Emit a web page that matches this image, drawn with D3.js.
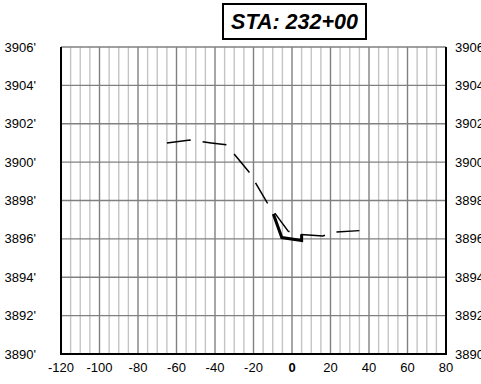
<!DOCTYPE html>
<html>
<head>
<meta charset="utf-8">
<script src="https://cdn.jsdelivr.net/npm/d3@7"></script>
<style>
  html, body { margin: 0; padding: 0; background: #fff; overflow: hidden; }
  svg { display: block; font-family: Arial, "Liberation Sans", sans-serif; }
</style>
</head>
<body>
<svg id="chart" width="481" height="384"></svg>
<script>
// Cross-section at station 232+00: offset (ft) vs. elevation (ft)
const title = "STA: 232+00";
const xTicks = [-120, -100, -80, -60, -40, -20, 0, 20, 40, 60, 80];
const yTicks = [3890, 3892, 3894, 3896, 3898, 3900, 3902, 3904, 3906];

// Existing ground (dashed)
const existingOffset = [-65, -53, -42, -34, -22, -13, -2, 2, 16, 22, 35];
const existingElev   = [3901.0, 3901.15, 3901.0, 3900.9, 3899.45, 3897.9, 3896.4, 3896.25, 3896.15, 3896.35, 3896.43];

// Proposed section (solid)
const proposedOffset = [-9.7, -5.3, 5.0, 5.0];
const proposedElev   = [3897.3, 3896.07, 3895.91, 3896.24];

const plotLeft = 61, plotRight = 446, plotTop = 47, plotBottom = 354;

const svg = d3.select("#chart");
const x = d3.scaleLinear().domain([-120, 80]).range([plotLeft, plotRight]);
const y = d3.scaleLinear().domain([3890, 3906]).range([plotBottom, plotTop]);

// Minor vertical grid every 5 ft
const minor = d3.range(-115, 80, 5).filter(v => v % 20 !== 0);
svg.append("g").selectAll("line").data(minor).join("line")
  .attr("x1", d => x(d)).attr("x2", d => x(d))
  .attr("y1", y(3906)).attr("y2", y(3890))
  .attr("stroke", "#c4c4c4").attr("stroke-width", 1.4);

// Major vertical grid
svg.append("g").selectAll("line").data(xTicks.filter(v => v > -120 && v < 80)).join("line")
  .attr("x1", d => x(d)).attr("x2", d => x(d))
  .attr("y1", y(3906)).attr("y2", y(3890))
  .attr("stroke", "#808080").attr("stroke-width", 1.4);

// Horizontal grid
svg.append("g").selectAll("line").data(yTicks.filter(v => v > 3890)).join("line")
  .attr("x1", x(-120)).attr("x2", x(80))
  .attr("y1", d => y(d)).attr("y2", d => y(d))
  .attr("stroke", "#808080").attr("stroke-width", 1.4);

// Frame: left, bottom, right
svg.append("path")
  .attr("d", `M${x(-120)},${y(3906)}V${y(3890)}H${x(80)}V${y(3906)}`)
  .attr("fill", "none").attr("stroke", "#000").attr("stroke-width", 2);

// Y labels on both sides
svg.append("g").selectAll("text").data(yTicks).join("text")
  .attr("x", plotLeft - 25).attr("y", d => y(d) + 4.5)
  .attr("text-anchor", "end").attr("font-size", 13)
  .text(d => d + "'");
svg.append("g").selectAll("text").data(yTicks).join("text")
  .attr("x", plotRight + 9).attr("y", d => y(d) + 4.5)
  .attr("text-anchor", "start").attr("font-size", 13)
  .text(d => d + "'");

// X labels
svg.append("g").selectAll("text").data(xTicks).join("text")
  .attr("x", d => x(d)).attr("y", plotBottom + 18)
  .attr("text-anchor", "middle").attr("font-size", 13)
  .attr("font-weight", d => d === 0 ? "bold" : "normal")
  .text(d => d);

const line = d3.line().x(d => x(d[0])).y(d => y(d[1]));

// Existing ground
svg.append("path")
  .datum(d3.zip(existingOffset, existingElev))
  .attr("d", line)
  .attr("fill", "none").attr("stroke", "#000").attr("stroke-width", 1.5)
  .attr("stroke-dasharray", "24,12");

// Proposed section
svg.append("path")
  .datum(d3.zip(proposedOffset, proposedElev))
  .attr("d", line)
  .attr("fill", "none").attr("stroke", "#000").attr("stroke-width", 3)
  .attr("stroke-linejoin", "miter");

// Station title box
svg.append("rect")
  .attr("x", 223).attr("y", 4).attr("width", 143).attr("height", 35)
  .attr("fill", "#fff").attr("stroke", "#000").attr("stroke-width", 2);
svg.append("text")
  .attr("x", 294.5).attr("y", 29)
  .attr("text-anchor", "middle")
  .attr("font-size", 21.5).attr("font-weight", "bold").attr("font-style", "italic")
  .text(title);
</script>
</body>
</html>
